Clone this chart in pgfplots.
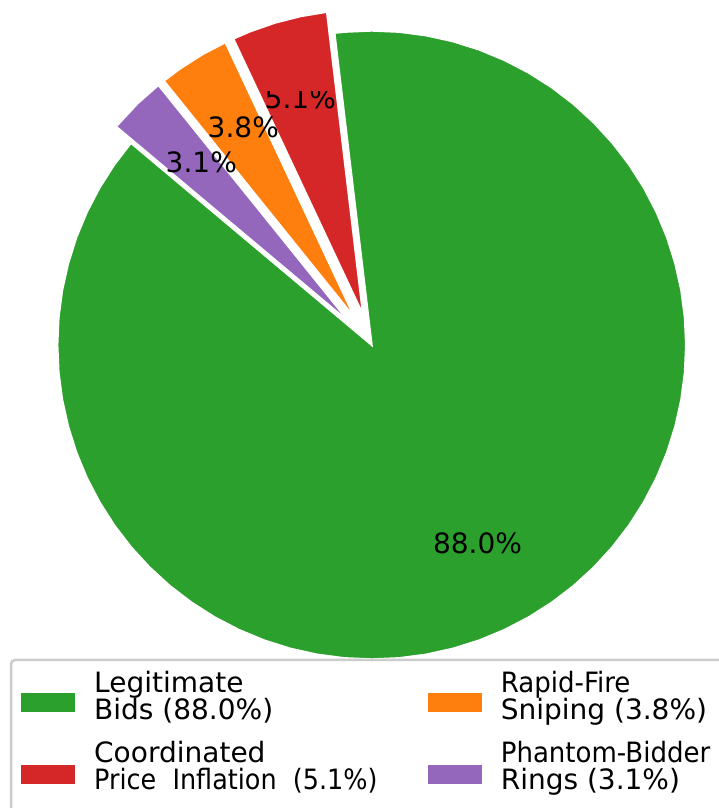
\documentclass[border=0pt]{standalone}
\usepackage{pgfplots}
\pgfplotsset{compat=1.18}
\usepackage{graphicx}
\usepackage{fontspec}
\setmainfont{DejaVu Sans}
\definecolor{cgreen}{HTML}{2CA02C}
\definecolor{cred}{HTML}{D62728}
\definecolor{corange}{HTML}{FF7F0E}
\definecolor{cpurple}{HTML}{9467BD}
\begin{document}
\begin{tikzpicture}
\useasboundingbox (0,0) rectangle (719pt,808pt);
\clip (0,0) rectangle (719pt,808pt);
\begin{axis}[
  at={(0,0)}, anchor=south west,
  x=1pt, y=1pt, scale only axis, hide axis,
  xmin=-371.7, xmax=347.3, ymin=-463, ymax=345,
  clip=false,
]
% Legitimate Bids 88.0% : 140 -> 456.8 deg
\addplot[fill=cgreen, draw=white, line width=2pt, data cs=polar] coordinates {
(0,0) (140,314.3) (145,314.3) (150,314.3) (155,314.3) (160,314.3) (165,314.3) (170,314.3) (175,314.3)
(180,314.3) (185,314.3) (190,314.3) (195,314.3) (200,314.3) (205,314.3) (210,314.3) (215,314.3)
(220,314.3) (225,314.3) (230,314.3) (235,314.3) (240,314.3) (245,314.3) (250,314.3) (255,314.3)
(260,314.3) (265,314.3) (270,314.3) (275,314.3) (280,314.3) (285,314.3) (290,314.3) (295,314.3)
(300,314.3) (305,314.3) (310,314.3) (315,314.3) (320,314.3) (325,314.3) (330,314.3) (335,314.3)
(340,314.3) (345,314.3) (350,314.3) (355,314.3) (360,314.3) (365,314.3) (370,314.3) (375,314.3)
(380,314.3) (385,314.3) (390,314.3) (395,314.3) (400,314.3) (405,314.3) (410,314.3) (415,314.3)
(420,314.3) (425,314.3) (430,314.3) (435,314.3) (440,314.3) (445,314.3) (450,314.3) (455,314.3)
(456.8,314.3) (0,0)} \closedcycle;
% Coordinated Price Inflation 5.1% : 96.8 -> 115.16
\addplot[fill=cred, draw=white, line width=2pt, data cs=polar, xshift=-8.7pt, yshift=30.2pt] coordinates {
(0,0) (96.8,305) (101.8,305) (106.8,305) (111.8,305) (115.16,305) (0,0)} \closedcycle;
% Rapid-Fire Sniping 3.8% : 115.16 -> 128.84
\addplot[fill=corange, draw=white, line width=2pt, data cs=polar, xshift=-16.6pt, yshift=26.6pt] coordinates {
(0,0) (115.16,305) (120,305) (125,305) (128.84,305) (0,0)} \closedcycle;
% Phantom-Bidder Rings 3.1% : 128.84 -> 140
\addplot[fill=cpurple, draw=white, line width=2pt, data cs=polar, xshift=-22.0pt, yshift=22.4pt] coordinates {
(0,0) (128.84,305) (134,305) (140,305) (0,0)} \closedcycle;
\end{axis}
% percentage labels
\begin{scope}[font=\fontsize{28}{28}\selectfont]
\node[anchor=base, inner sep=0pt] at (477.5pt,254.7pt) {88.0\%};
\begin{scope}
\clip (240pt,0pt) rectangle (360pt,716.5pt);
\node[anchor=base, inner sep=0pt] at (300.3pt,699.7pt) {5.1\%};
\end{scope}
\node[anchor=base, inner sep=0pt] at (243.3pt,670.3pt) {3.8\%};
\node[anchor=base, inner sep=0pt] at (201.3pt,635.3pt) {3.1\%};
\end{scope}
% legend
\draw[draw=black!20, line width=2.5pt, rounded corners=4pt, fill=white, fill opacity=0.8] (11pt,148pt) rectangle (740pt,-20pt);
\fill[cgreen] (21pt,96.3pt) rectangle (75pt,115.3pt);
\fill[cred] (21pt,24pt) rectangle (75pt,43pt);
\fill[corange] (428.3pt,96.3pt) rectangle (481.7pt,115.3pt);
\fill[cpurple] (428.3pt,24pt) rectangle (481.7pt,43pt);
\begin{scope}[font=\fontsize{28}{28}\selectfont, every node/.style={anchor=base west, inner sep=0pt}]
\node at (94pt,115.3pt) {Legitimate};
\node at (94pt,88.7pt) {Bids (88.0\%)};
\node at (94pt,45.3pt) {Coordinated};
\node at (94pt,18.7pt) {\scalebox{0.91}[1]{Price\ \ Inflation\ \ (5.1\%)}};
\node at (500.6pt,115.3pt) {\scalebox{0.93}[1]{Rapid-Fire}};
\node at (500.6pt,88.7pt) {Sniping (3.8\%)};
\node at (500.6pt,45.3pt) {\scalebox{0.93}[1]{Phantom-Bidder}};
\node at (500.6pt,18.7pt) {Rings (3.1\%)};
\end{scope}
\end{tikzpicture}
\end{document}
